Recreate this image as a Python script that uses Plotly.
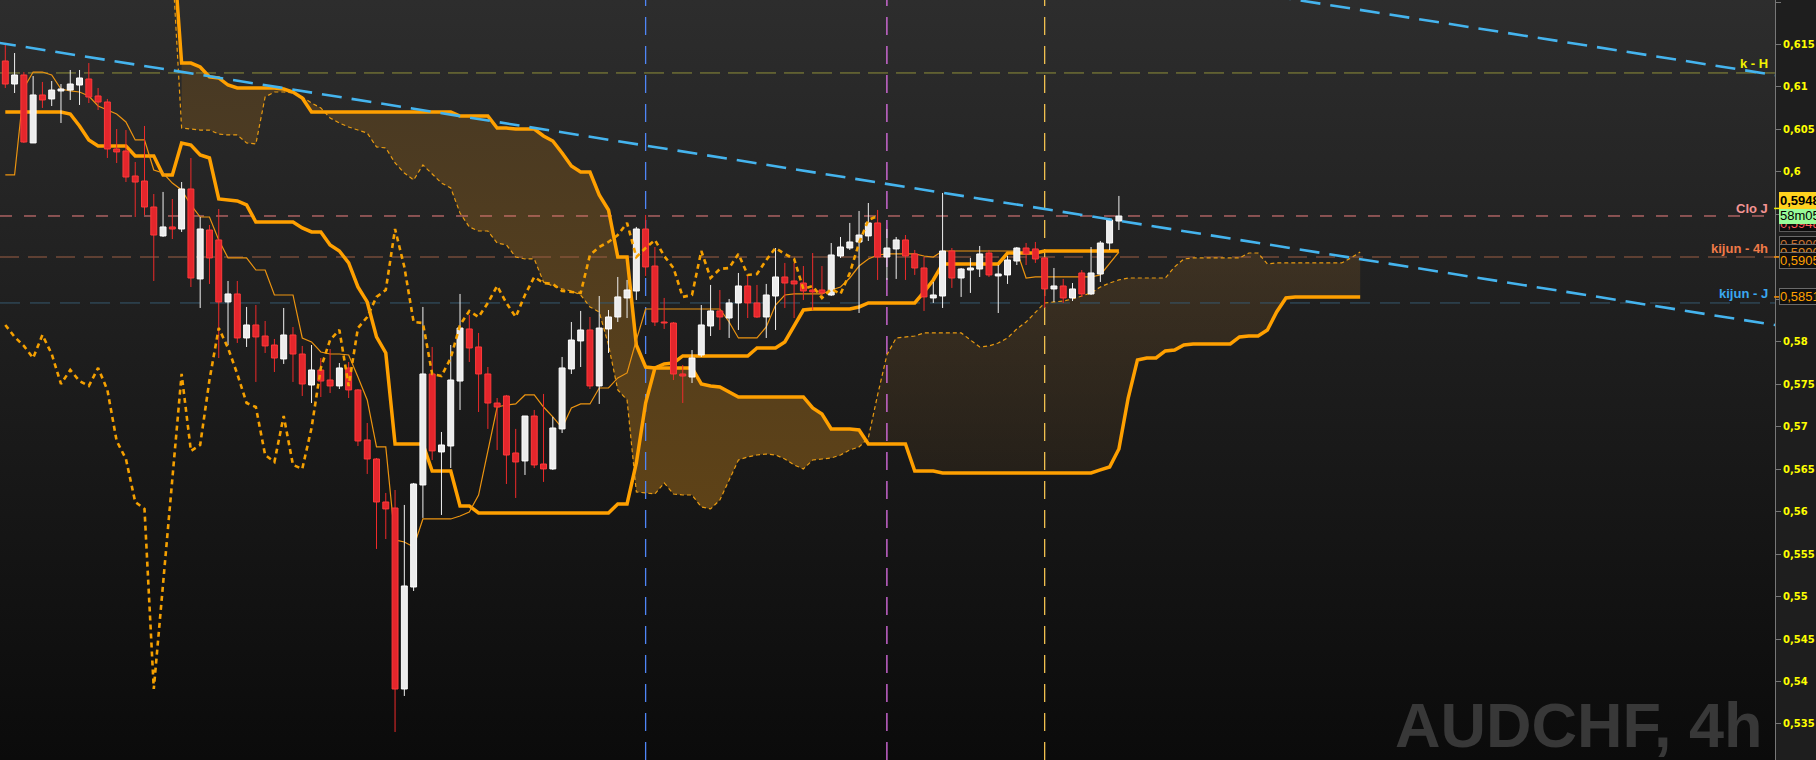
import plotly.graph_objects as go

# ---------------- data ----------------
open_ = [
    0.61306, 0.61035, 0.61141, 0.60341, 0.60906, 0.60859, 0.60953, 0.60964, 0.61023, 0.61094,
    0.60894, 0.60823, 0.60270, 0.60246, 0.59952, 0.59893, 0.59587, 0.59246, 0.59352, 0.59328,
    0.59799, 0.58740, 0.59316, 0.59199, 0.58469, 0.58563, 0.58045, 0.58198, 0.58068, 0.57962,
    0.57798, 0.58080, 0.57856, 0.57491, 0.57668, 0.57550, 0.57480, 0.57692, 0.57433, 0.56844,
    0.56620, 0.56114, 0.56043, 0.53912, 0.55113, 0.56314, 0.57621, 0.56703, 0.56773, 0.57538,
    0.58151, 0.57939, 0.57621, 0.57279, 0.57362, 0.56691, 0.56597, 0.57126, 0.56561, 0.56503,
    0.56974, 0.57680, 0.58010, 0.58139, 0.57480, 0.58151, 0.58292, 0.58516, 0.58598, 0.59328,
    0.58892, 0.58233, 0.58221, 0.57621, 0.57585, 0.57845, 0.58186, 0.58363, 0.58280, 0.58457,
    0.58657, 0.58457, 0.58292, 0.58539, 0.58763, 0.58716, 0.58692, 0.58610, 0.58610, 0.58551,
    0.59010, 0.59104, 0.59175, 0.59246, 0.59399, 0.58998, 0.59093, 0.59199, 0.59034, 0.58869,
    0.58516, 0.58539, 0.59069, 0.58751, 0.58845, 0.58857, 0.59045, 0.58775, 0.58787, 0.58951,
    0.59104, 0.59093, 0.58987, 0.58622, 0.58657, 0.58516, 0.58810, 0.58563, 0.58798, 0.59163,
    0.59422]
high = [
    0.61518, 0.61400, 0.61176, 0.61129, 0.61059, 0.61070, 0.61035, 0.61200, 0.61200, 0.61282,
    0.60988, 0.60859, 0.60505, 0.60493, 0.60117, 0.60541, 0.59740, 0.59764, 0.59681, 0.59881,
    0.60164, 0.59469, 0.59375, 0.59563, 0.58716, 0.58716, 0.58410, 0.58433, 0.58245, 0.58033,
    0.58398, 0.58174, 0.57951, 0.57962, 0.57809, 0.57915, 0.57750, 0.57762, 0.57444, 0.57044,
    0.56632, 0.56220, 0.56255, 0.56079, 0.56338, 0.58410, 0.57939, 0.56938, 0.57962, 0.58563,
    0.58316, 0.58104, 0.57703, 0.57338, 0.57374, 0.56974, 0.57126, 0.57197, 0.57386, 0.57115,
    0.57821, 0.58233, 0.58363, 0.58292, 0.58539, 0.58374, 0.58763, 0.58728, 0.59352, 0.59493,
    0.59116, 0.58516, 0.58233, 0.57727, 0.57903, 0.58433, 0.58669, 0.58610, 0.58504, 0.58810,
    0.58787, 0.58669, 0.58681, 0.59104, 0.58928, 0.58928, 0.58892, 0.59045, 0.58892, 0.59163,
    0.59234, 0.59399, 0.59540, 0.59634, 0.59552, 0.59328, 0.59234, 0.59257, 0.59081, 0.58998,
    0.58704, 0.59752, 0.59104, 0.58869, 0.58987, 0.59128, 0.59081, 0.58904, 0.59010, 0.59116,
    0.59163, 0.59175, 0.58998, 0.58869, 0.58740, 0.58692, 0.58845, 0.59116, 0.59187, 0.59458,
    0.59717]
low = [
    0.60988, 0.60929, 0.60341, 0.60341, 0.60753, 0.60776, 0.60576, 0.60847, 0.60788, 0.60811,
    0.60729, 0.60164, 0.60105, 0.59881, 0.59469, 0.59493, 0.58716, 0.59234, 0.59210, 0.59293,
    0.58645, 0.58398, 0.58681, 0.57809, 0.57962, 0.57986, 0.57939, 0.57527, 0.57868, 0.57644,
    0.57739, 0.57527, 0.57362, 0.57279, 0.57350, 0.57397, 0.57444, 0.57338, 0.56773, 0.56444,
    0.55561, 0.55678, 0.53406, 0.53830, 0.55066, 0.55926, 0.56608, 0.55961, 0.56514, 0.57197,
    0.57762, 0.57173, 0.56974, 0.56726, 0.56326, 0.56161, 0.56432, 0.56514, 0.56350, 0.56491,
    0.56926, 0.57621, 0.57703, 0.57444, 0.57268, 0.57868, 0.58233, 0.58280, 0.58492, 0.58775,
    0.58186, 0.58151, 0.57550, 0.57279, 0.57515, 0.57821, 0.58068, 0.58139, 0.58045, 0.58139,
    0.58280, 0.58280, 0.58045, 0.58139, 0.58398, 0.58280, 0.58492, 0.58374, 0.58528, 0.58539,
    0.58987, 0.59081, 0.58339, 0.59187, 0.58728, 0.58728, 0.58740, 0.58728, 0.58787, 0.58363,
    0.58457, 0.58398, 0.58634, 0.58528, 0.58575, 0.58763, 0.58763, 0.58339, 0.58681, 0.58904,
    0.58904, 0.58928, 0.58398, 0.58469, 0.58457, 0.58480, 0.58528, 0.58551, 0.58704, 0.59081,
    0.59316]
close = [
    0.61035, 0.61141, 0.60352, 0.60906, 0.60847, 0.60964, 0.60976, 0.61035, 0.61106, 0.60882,
    0.60823, 0.60270, 0.60235, 0.59940, 0.59881, 0.59587, 0.59257, 0.59352, 0.59328, 0.59799,
    0.58751, 0.59328, 0.58987, 0.58469, 0.58563, 0.58045, 0.58198, 0.58057, 0.57951, 0.57809,
    0.58080, 0.57856, 0.57503, 0.57668, 0.57538, 0.57480, 0.57692, 0.57433, 0.56832, 0.56620,
    0.56114, 0.56032, 0.53912, 0.55125, 0.56326, 0.57621, 0.56715, 0.56785, 0.57550, 0.58162,
    0.57927, 0.57621, 0.57279, 0.57232, 0.56667, 0.56585, 0.57126, 0.56550, 0.56503, 0.56985,
    0.57692, 0.58021, 0.58139, 0.57480, 0.58162, 0.58292, 0.58528, 0.58610, 0.59328, 0.58881,
    0.58233, 0.58221, 0.57621, 0.57597, 0.57809, 0.58198, 0.58363, 0.58292, 0.58457, 0.58657,
    0.58457, 0.58292, 0.58551, 0.58763, 0.58692, 0.58681, 0.58598, 0.58587, 0.58575, 0.59022,
    0.59116, 0.59175, 0.59257, 0.59399, 0.58998, 0.59104, 0.59199, 0.59010, 0.58869, 0.58528,
    0.58551, 0.59069, 0.58751, 0.58857, 0.58869, 0.59034, 0.58787, 0.58798, 0.58963, 0.59104,
    0.59034, 0.58975, 0.58622, 0.58657, 0.58516, 0.58622, 0.58563, 0.58810, 0.59163, 0.59434,
    0.59481]

tenkan = [
    0.59964, 0.59964, 0.60988, 0.61176, 0.61176, 0.61141, 0.60976, 0.60953, 0.60941, 0.60894,
    0.60776, 0.60729, 0.60682, 0.60588, 0.60376, 0.60376, 0.60023, 0.59987, 0.59869, 0.59787,
    0.59611, 0.59469, 0.59469, 0.59199, 0.58987, 0.58987, 0.58987, 0.58845, 0.58845, 0.58551,
    0.58551, 0.58551, 0.58045, 0.57998, 0.57880, 0.57856, 0.57856, 0.57845, 0.57585, 0.57315,
    0.56762, 0.56762, 0.55667, 0.55643, 0.55584, 0.55914, 0.55914, 0.55914, 0.55914, 0.55949,
    0.55996, 0.56196, 0.56726, 0.57232, 0.57256, 0.57268, 0.57374, 0.57374, 0.57232, 0.57115,
    0.56985, 0.57221, 0.57268, 0.57268, 0.57456, 0.57456, 0.57574, 0.57633, 0.58021, 0.58386,
    0.58386, 0.58386, 0.58386, 0.58386, 0.58386, 0.58386, 0.58386, 0.58386, 0.58233, 0.58045,
    0.58045, 0.58045, 0.58174, 0.58433, 0.58551, 0.58563, 0.58563, 0.58563, 0.58563, 0.58610,
    0.58645, 0.58751, 0.58892, 0.58975, 0.59022, 0.59034, 0.59034, 0.59034, 0.59034, 0.59010,
    0.58998, 0.59069, 0.59069, 0.59069, 0.59069, 0.59069, 0.59069, 0.59069, 0.59069, 0.59069,
    0.58751, 0.58763, 0.58763, 0.58763, 0.58763, 0.58763, 0.58763, 0.58763, 0.58787, 0.58916,
    0.59057]
kijun = [
    0.60705, 0.60705, 0.60705, 0.60705, 0.60705, 0.60705, 0.60705, 0.60682, 0.60541, 0.60376,
    0.60305, 0.60305, 0.60305, 0.60305, 0.60187, 0.60187, 0.60187, 0.59964, 0.59964, 0.60341,
    0.60317, 0.60199, 0.60164, 0.59681, 0.59669, 0.59658, 0.59611, 0.59410, 0.59410, 0.59410,
    0.59410, 0.59410, 0.59340, 0.59293, 0.59293, 0.59140, 0.59069, 0.58928, 0.58645, 0.58469,
    0.58057, 0.57868, 0.56797, 0.56797, 0.56797, 0.56797, 0.56479, 0.56479, 0.56479, 0.56067,
    0.56067, 0.55985, 0.55985, 0.55985, 0.55985, 0.55985, 0.55985, 0.55985, 0.55985, 0.55985,
    0.55985, 0.55985, 0.55985, 0.55985, 0.55985, 0.55985, 0.56090, 0.56090, 0.56573, 0.57279,
    0.57692, 0.57739, 0.57750, 0.57833, 0.57833, 0.57833, 0.57833, 0.57833, 0.57833, 0.57833,
    0.57833, 0.57927, 0.57927, 0.57927, 0.57998, 0.58186, 0.58374, 0.58386, 0.58386, 0.58386,
    0.58386, 0.58386, 0.58410, 0.58457, 0.58457, 0.58457, 0.58457, 0.58457, 0.58457, 0.58587,
    0.58728, 0.58916, 0.58916, 0.58916, 0.58916, 0.58916, 0.58916, 0.58916, 0.59045, 0.59045,
    0.59045, 0.59045, 0.59069, 0.59069, 0.59069, 0.59069, 0.59069, 0.59069, 0.59069, 0.59069,
    0.59069]

senkou_start = 18          # first bar index of the cloud spans
senkou_a = [
    0.6245,
    0.60517, 0.60505, 0.60493, 0.60493, 0.60446, 0.60435, 0.60435, 0.60341, 0.60329, 0.60882,
    0.60941, 0.60941, 0.60929, 0.60882, 0.60811, 0.60753, 0.60635, 0.60576, 0.60529, 0.60493,
    0.60458, 0.60294, 0.60282, 0.60105, 0.59987, 0.59905, 0.60081, 0.59976, 0.59869, 0.59811,
    0.59516, 0.59352, 0.59304, 0.59304, 0.59163, 0.59140, 0.58998, 0.58975, 0.58975, 0.58704,
    0.58657, 0.58622, 0.58598, 0.58551, 0.58410, 0.58351, 0.57962, 0.57433, 0.57315, 0.56232,
    0.56220, 0.56208, 0.56338, 0.56208, 0.56196, 0.56196, 0.56055, 0.56032, 0.56137, 0.56373,
    0.56608, 0.56644, 0.56667, 0.56679, 0.56667, 0.56620, 0.56550, 0.56503, 0.56608, 0.56620,
    0.56632, 0.56667, 0.56726, 0.56762, 0.56868, 0.57374, 0.57845, 0.58045, 0.58057, 0.58068,
    0.58104, 0.58104, 0.58104, 0.58104, 0.58104, 0.58021, 0.57939, 0.57951, 0.57986, 0.58045,
    0.58151, 0.58233, 0.58339, 0.58457, 0.58469, 0.58480, 0.58504, 0.58539, 0.58575, 0.58645,
    0.58692, 0.58728, 0.58751, 0.58751, 0.58751, 0.58751, 0.58751, 0.58881, 0.58975, 0.58987,
    0.58987, 0.58987, 0.58987, 0.58987, 0.58987, 0.59045, 0.59045, 0.58916, 0.58928, 0.58928,
    0.58928, 0.58928, 0.58928, 0.58928, 0.58928, 0.58928, 0.58987, 0.59057]
senkou_b = [
    0.6280,
    0.61282, 0.61282, 0.61235, 0.61118, 0.61106, 0.61023, 0.60988, 0.60988, 0.60988, 0.60988,
    0.60988, 0.60976, 0.60941, 0.60870, 0.60705, 0.60705, 0.60705, 0.60705, 0.60705, 0.60705,
    0.60705, 0.60705, 0.60705, 0.60705, 0.60705, 0.60705, 0.60705, 0.60705, 0.60705, 0.60705,
    0.60658, 0.60658, 0.60658, 0.60658, 0.60517, 0.60517, 0.60505, 0.60505, 0.60505, 0.60423,
    0.60364, 0.60223, 0.60070, 0.59999, 0.59999, 0.59728, 0.59552, 0.58998, 0.58998, 0.57962,
    0.57703, 0.57692, 0.57692, 0.57692, 0.57692, 0.57692, 0.57503, 0.57480, 0.57468, 0.57409,
    0.57350, 0.57350, 0.57350, 0.57350, 0.57350, 0.57350, 0.57350, 0.57350, 0.57221, 0.57150,
    0.56974, 0.56974, 0.56974, 0.56962, 0.56797, 0.56797, 0.56797, 0.56797, 0.56797, 0.56479,
    0.56479, 0.56479, 0.56456, 0.56456, 0.56456, 0.56456, 0.56456, 0.56456, 0.56456, 0.56456,
    0.56456, 0.56456, 0.56456, 0.56456, 0.56456, 0.56456, 0.56456, 0.56456, 0.56456, 0.56491,
    0.56526, 0.56738, 0.57338, 0.57786, 0.57809, 0.57809, 0.57892, 0.57903, 0.57962, 0.57974,
    0.57974, 0.57974, 0.57974, 0.57974, 0.58057, 0.58068, 0.58068, 0.58139, 0.58351, 0.58516,
    0.58528, 0.58528, 0.58528, 0.58528, 0.58528, 0.58528, 0.58528, 0.58528]
cloud_first = 19           # first bar where the cloud is filled
cloud_cross = 93           # bar where span A crosses above span B
chikou_shift = 26

level_names = ["k - H", "Clo J", "kijun - 4h", "kijun - J"]
level_prices = [0.61165, 0.59481, 0.58998, 0.58457]
level_label_prices = [0.61282, 0.59575, 0.59104, 0.58563]

vline_bars = [69, 95, 112]

trend_main_x = [-1, 191]
trend_main_y = [0.61525, 0.58192]
trend_top_x = [130, 191]
trend_top_y = [0.62182, 0.61135]

tick_values = [0.535, 0.54, 0.545, 0.55, 0.555, 0.56, 0.565, 0.57, 0.575, 0.58,
               0.585, 0.59, 0.595, 0.6, 0.605, 0.61, 0.615, 0.62]
tick_labels = ["0,535", "0,54", "0,545", "0,55", "0,555", "0,56", "0,565", "0,57", "0,575", "0,58",
               "0,585", "0,59", "0,595", "0,6", "0,605", "0,61", "0,615", "0,62"]

tag_texts = ["0,5948", "58m05s", "0,5948", "0,5900", "0,5900", "0,5905", "0,5851"]
tag_prices = [0.59387, 0.59487, 0.59669, 0.59151, 0.59057, 0.58957, 0.58528]

# ---------------- styles ----------------
Y_RANGE = [0.53076, 0.62024]
X_RANGE = [-0.571, 190.70]
ORANGE = "#ffa000"
HW = 0.32

level_colors = ["#8f8f3a", "#ee8080", "#9c5e44", "#36586e"]
level_dash = ["20px,8px", "12px,12px", "19px,9px", "20px,10px"]
label_colors = ["#f2f200", "#f49494", "#f07a48", "#3aa8f0"]
vline_colors = ["#4f86f7", "#e070e8", "#f0c050"]
tag_style = [
    dict(bg="#0c0c0c", border="#5a5a5a", fc="#ff5a5a", bold=False),
    dict(bg="#98fb98", border="#98fb98", fc="#000000", bold=False),
    dict(bg="#ffd21e", border="#ffd21e", fc="#000000", bold=True),
    dict(bg="#101010", border="#6a6a6a", fc="#c87030", bold=False),
    dict(bg="#101010", border="#6a6a6a", fc="#e08a20", bold=False),
    dict(bg="#101010", border="#6a6a6a", fc="#ffa000", bold=False),
    dict(bg="#101010", border="#6a6a6a", fc="#ffa000", bold=False),
]

fig = go.Figure()

# background gradient
fig.add_trace(go.Scatter(
    x=[-5, 200, 200, -5, -5], y=[0.50, 0.50, 0.65, 0.65, 0.50], mode="lines",
    line=dict(width=0), fill="toself", fillcolor="#1c1c1c",
    fillgradient=dict(type="vertical", colorscale=[[0, "#0b0b0b"], [1, "#2d2d2d"]],
                      start=Y_RANGE[0], stop=Y_RANGE[1]),
    hoverinfo="skip"))


def span(lst, a, b):
    return lst[a - senkou_start: b - senkou_start + 1]


# cloud fills
bx = list(range(cloud_first, cloud_cross + 1))
fig.add_trace(go.Scatter(x=bx, y=span(senkou_b, cloud_first, cloud_cross), mode="lines",
                         line=dict(width=0), hoverinfo="skip"))
fig.add_trace(go.Scatter(x=bx, y=span(senkou_a, cloud_first, cloud_cross), mode="lines",
                         line=dict(width=0), fill="tonexty", fillcolor="rgb(82,60,30)",
                         fillgradient=dict(type="vertical",
                                           colorscale=[[0, "rgb(96,67,22)"], [1, "rgb(72,57,36)"]],
                                           start=0.556, stop=0.612),
                         hoverinfo="skip"))
last = senkou_start + len(senkou_a) - 1
ux = list(range(cloud_cross, last + 1))
fig.add_trace(go.Scatter(x=ux, y=span(senkou_b, cloud_cross, last), mode="lines",
                         line=dict(width=0), hoverinfo="skip"))
fig.add_trace(go.Scatter(x=ux, y=span(senkou_a, cloud_cross, last), mode="lines",
                         line=dict(width=0), fill="tonexty", fillcolor="rgba(255,160,40,0.09)",
                         fillgradient=dict(type="vertical",
                                           colorscale=[[0, "rgba(255,160,40,0.05)"],
                                                       [1, "rgba(255,160,40,0.13)"]],
                                           start=0.562, stop=0.592),
                         hoverinfo="skip"))

# horizontal levels
for p, c, d in zip(level_prices, level_colors, level_dash):
    fig.add_trace(go.Scatter(x=X_RANGE, y=[p, p], mode="lines",
                             line=dict(color=c, width=1, dash=d), hoverinfo="skip"))

# vertical markers
for b, c in zip(vline_bars, vline_colors):
    fig.add_trace(go.Scatter(x=[b, b], y=Y_RANGE, mode="lines",
                             line=dict(color=c, width=1.3, dash="18px,11px"), hoverinfo="skip"))

sx = list(range(senkou_start, senkou_start + len(senkou_a)))
fig.add_trace(go.Scatter(x=sx, y=senkou_a, mode="lines",
                         line=dict(color="#e89a10", width=1.2, dash="4px,3px"), hoverinfo="skip"))
fig.add_trace(go.Scatter(x=sx, y=senkou_b, mode="lines",
                         line=dict(color=ORANGE, width=3.5), hoverinfo="skip"))

idx = list(range(len(close)))
fig.add_trace(go.Scatter(x=idx, y=kijun, mode="lines",
                         line=dict(color=ORANGE, width=3.5), hoverinfo="skip"))
fig.add_trace(go.Scatter(x=idx, y=tenkan, mode="lines",
                         line=dict(color="#ec9410", width=1.2), hoverinfo="skip"))

# candles
up = [i for i in idx if close[i] >= open_[i]]
dn = [i for i in idx if close[i] < open_[i]]


def wicks(ids):
    xs, ys = [], []
    for i in ids:
        xs += [i, i, None]
        ys += [low[i], high[i], None]
    return xs, ys


def bodies(ids):
    xs, ys = [], []
    for i in ids:
        xs += [i - HW, i + HW, i + HW, i - HW, i - HW, None]
        ys += [open_[i], open_[i], close[i], close[i], open_[i], None]
    return xs, ys


for ids, wc, fc, lc in [(up, "#f0f0f0", "#ececec", "#ffffff"),
                        (dn, "#ee2a2a", "#e4262c", "#ff3a3a")]:
    wx, wy = wicks(ids)
    fig.add_trace(go.Scatter(x=wx, y=wy, mode="lines", line=dict(color=wc, width=1),
                             hoverinfo="skip"))
    bx_, by_ = bodies(ids)
    fig.add_trace(go.Scatter(x=bx_, y=by_, mode="lines", fill="toself", fillcolor=fc,
                             line=dict(color=lc, width=1), hoverinfo="skip"))

# chikou span: closes plotted 26 bars back
fig.add_trace(go.Scatter(x=[i - chikou_shift for i in idx[chikou_shift:]], y=close[chikou_shift:],
                         mode="lines", line=dict(color="#f5a000", width=2.6, dash="5px,4px"),
                         hoverinfo="skip"))

# trend lines
for tx, ty in [(trend_main_x, trend_main_y), (trend_top_x, trend_top_y)]:
    fig.add_trace(go.Scatter(x=tx, y=ty, mode="lines",
                             line=dict(color="#45b4ee", width=2.6, dash="20px,10px"),
                             hoverinfo="skip"))

annotations = []
for name, p, c in zip(level_names, level_label_prices, label_colors):
    annotations.append(dict(xref="paper", yref="y", x=0.9972, y=p, xanchor="right",
                            yanchor="middle", text=name, showarrow=False,
                            font=dict(family="Liberation Sans", size=13, color=c, weight="bold")))

for t, p, s in zip(tag_texts, tag_prices, tag_style):
    annotations.append(dict(xref="paper", yref="y", x=1.00225, y=p, xanchor="left",
                            yanchor="middle", text=t, showarrow=False, bgcolor=s["bg"],
                            bordercolor=s["border"], borderwidth=1, borderpad=0,
                            font=dict(family="Liberation Sans", size=13, color=s["fc"],
                                      weight="bold" if s["bold"] else "normal")))

annotations.append(dict(xref="paper", yref="paper", x=0.9945, y=0.046, xanchor="right",
                        yanchor="middle", text="AUDCHF, 4h", showarrow=False,
                        font=dict(family="Liberation Sans", size=63, color="#383838",
                                  weight="bold")))

shapes = []
for p, c in [(level_prices[2], "#ff9000"), (tag_prices[6], "#ff9000"), (0.5957, "#f0f000")]:
    shapes.append(dict(type="line", xref="paper", yref="y", x0=0.9995, x1=1.0028, y0=p, y1=p,
                       line=dict(color=c, width=1.5)))

fig.update_layout(
    template="none",
    width=1816, height=760,
    margin=dict(l=0, r=41, t=0, b=0, pad=0),
    paper_bgcolor="#1e1e1e",
    plot_bgcolor="#1c1c1c",
    showlegend=False,
    hovermode=False,
    xaxis=dict(range=X_RANGE, visible=False, showgrid=False, zeroline=False, fixedrange=True),
    yaxis=dict(range=Y_RANGE, side="right", tickvals=tick_values, ticktext=tick_labels,
               ticks="outside", ticklen=5, tickwidth=1, tickcolor="#777777",
               showline=True, linecolor="#777777", linewidth=1, showgrid=False,
               zeroline=False, automargin=False, fixedrange=True,
               tickfont=dict(family="DejaVu Sans", size=10, color="#ffff00", weight="bold")),
    annotations=annotations,
    shapes=shapes,
)

fig.write_html("out.html", config={"displayModeBar": False},
               post_script="document.body.style.margin='0';document.body.style.overflow='hidden';")
